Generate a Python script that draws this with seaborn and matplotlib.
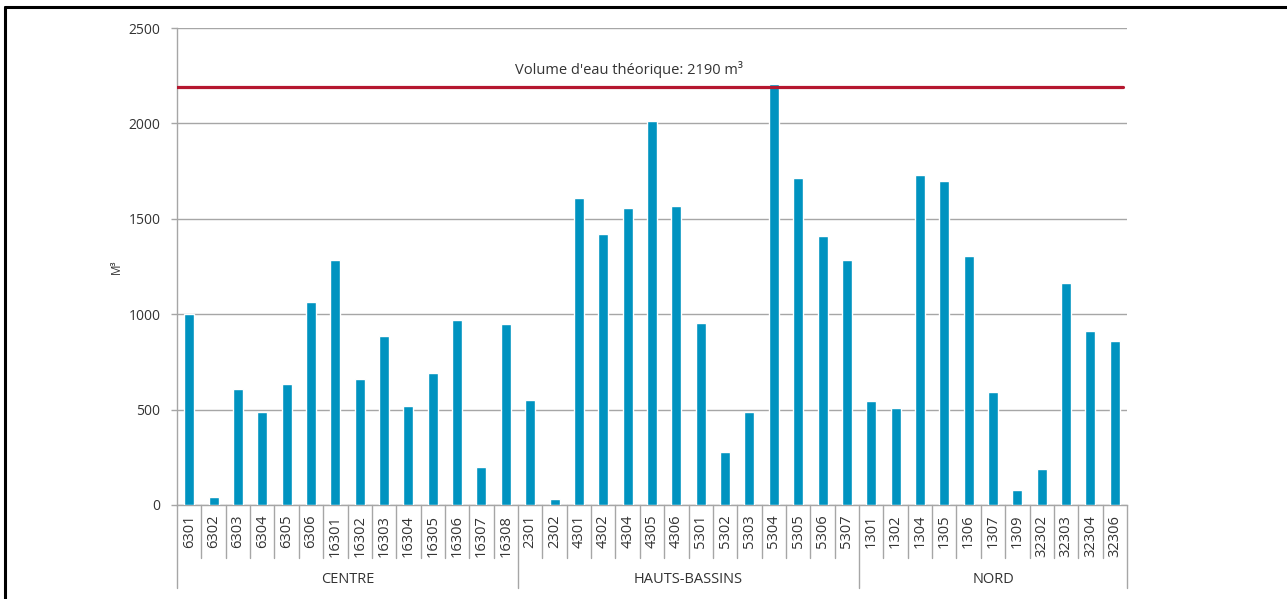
import pandas as pd
import matplotlib.pyplot as plt
from matplotlib.lines import Line2D
import matplotlib.transforms as mtransforms
import seaborn as sns

# stations grouped by region
centre_codes = ["6301", "6302", "6303", "6304", "6305", "6306", "16301", "16302",
                "16303", "16304", "16305", "16306", "16307", "16308"]
centre_m3 = [1000, 44, 609, 485, 635, 1066, 1285, 662, 884, 520, 690, 971, 200, 948]

hb_codes = ["2301", "2302", "4301", "4302", "4304", "4305", "4306", "5301",
            "5302", "5303", "5304", "5305", "5306", "5307"]
hb_m3 = [550, 30, 1607, 1422, 1556, 2014, 1569, 953, 280, 487, 2206, 1713, 1412, 1285]

nord_codes = ["1301", "1302", "1304", "1305", "1306", "1307", "1309",
              "32302", "32303", "32304", "32306"]
nord_m3 = [546, 506, 1729, 1700, 1303, 590, 76, 190, 1163, 912, 858]

regions = ["CENTRE", "HAUTS-BASSINS", "NORD"]
theoretical = 2190
y_ticks = [0, 500, 1000, 1500, 2000, 2500]

df = pd.DataFrame({
    "code": centre_codes + hb_codes + nord_codes,
    "m3": centre_m3 + hb_m3 + nord_m3,
    "region": [regions[0]] * len(centre_codes) + [regions[1]] * len(hb_codes)
              + [regions[2]] * len(nord_codes),
})

sns.set_style("white")
plt.rcParams["font.family"] = ["Open Sans", "DejaVu Sans"]

fig = plt.figure(figsize=(12.87, 5.99), dpi=100)
ax = fig.add_axes([177 / 1287, 1 - 505 / 599, 950 / 1287, 477 / 599])

sns.barplot(data=df, x="code", y="m3", color="#0093C0", saturation=1,
            width=0.41, errorbar=None, ax=ax, zorder=3)

grey = "#a6a6a6"
txt = "#333333"
n = len(df)
ax.set_xlim(-0.5, n - 0.5)
ax.set_ylim(0, 2500)
ax.set_yticks(y_ticks)
ax.yaxis.grid(True, color=grey, linewidth=1.0, zorder=0)
ax.set_axisbelow(True)
for s in ["top", "right"]:
    ax.spines[s].set_visible(False)
ax.spines["left"].set_color(grey)
ax.spines["bottom"].set_color(grey)
ax.spines["left"].set_linewidth(1.0)
ax.spines["bottom"].set_linewidth(1.0)

ax.tick_params(axis="y", length=4, color=grey, width=1.0, pad=8,
               labelsize=10, labelcolor=txt, left=True)
ax.tick_params(axis="x", length=0, pad=7, labelsize=10.5, labelcolor=txt, rotation=90)
ax.set_xlabel("")
ax.set_ylabel("M³", fontsize=8.5, color=txt, labelpad=4)

# theoretical volume line
ax.axhline(theoretical, xmin=0, xmax=0.996, color="#B5172F", linewidth=2.3, zorder=4)
ax.text(18.05, 2285, "Volume d'eau théorique: 2190 m³", ha="center", va="center",
        fontsize=10.5, color=txt)

# category separators and region separators below the axis
trans = mtransforms.blended_transform_factory(ax.transData, ax.transAxes)
bounds = [0, len(centre_codes), len(centre_codes) + len(hb_codes), n]
for k in range(n + 1):
    depth = -0.174 if k in bounds else -0.111
    ax.add_line(Line2D([k - 0.5, k - 0.5], [0, depth], transform=trans,
                       color=grey, linewidth=1.0, clip_on=False))
for i, r in enumerate(regions):
    mid = (bounds[i] + bounds[i + 1] - 1) / 2
    ax.text(mid, -0.156, r, transform=trans, ha="center", va="center",
            fontsize=10.5, color=txt)

# page frame
fig.add_artist(Line2D([5 / 1287, 5 / 1287], [0, 1 - 7 / 599], color="black", linewidth=2.2))
fig.add_artist(Line2D([5 / 1287, 1], [1 - 7 / 599, 1 - 7 / 599], color="black", linewidth=2.2))

fig.savefig("out.png", dpi=100)
